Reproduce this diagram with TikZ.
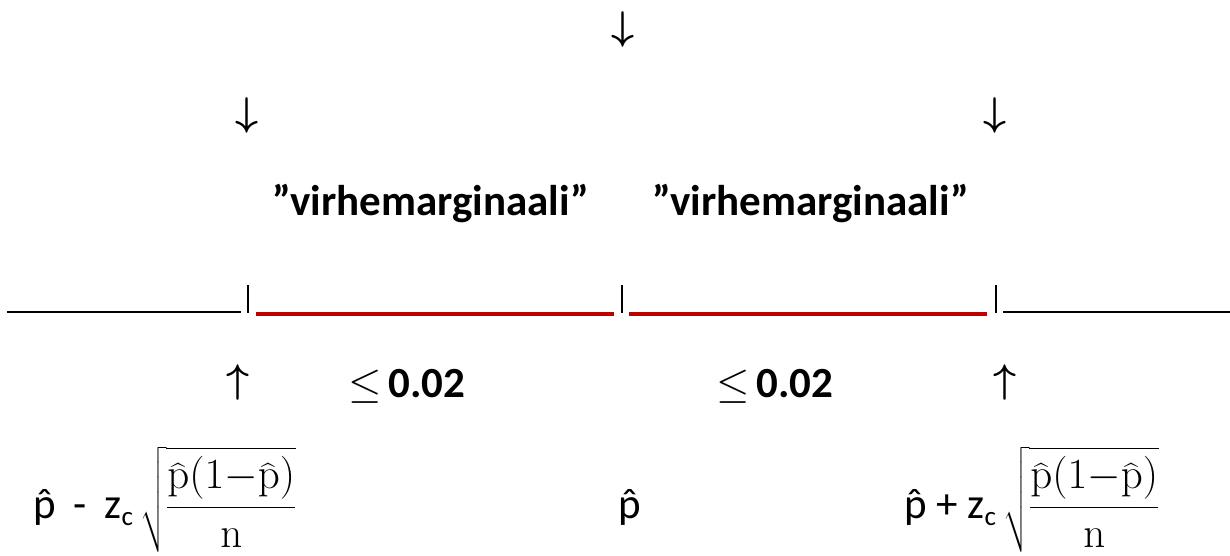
\RequirePackage{fix-cm}
\documentclass[tikz,border=0pt]{standalone}
\usepackage{amsmath}
\usepackage[no-math]{fontspec}
\setmainfont{Carlito}
\definecolor{wordred}{HTML}{C00000}
\newcommand\phat{\ooalign{p\cr\hidewidth ˆ\hidewidth\cr}}
\newcommand\sqfrac{\fontsize{43}{50}\selectfont$\sqrt{\dfrac{\vphantom{\rule{0pt}{0.8em}}\widehat{\mathrm{p}}(1{-}\widehat{\mathrm{p}})}{\mathrm{n}}}$}
\tikzset{
  txt/.style={inner sep=0pt, outer sep=0pt, font=\fontsize{43}{50}\selectfont},
  boldtxt/.style={txt, font=\fontsize{43}{50}\selectfont\bfseries},
  arr/.style={inner sep=0pt, outer sep=0pt, font=\fontsize{40}{40}\selectfont\boldmath},
  blackline/.style={line width=1.8pt, black},
  redline/.style={line width=4pt, wordred},
  tick/.style={line width=1.8pt, black}
}
\begin{document}
\begin{tikzpicture}[x=1pt,y=-1pt]
\useasboundingbox (0,0) rectangle (1230,555);
% arrows down
\node[arr] (dtop) at (623,29.5) {$\downarrow$};
\node[arr] (dleft) at (247,115.5) {$\downarrow$};
\node[arr] (dright) at (995,115.5) {$\downarrow$};
% labels
\node[boldtxt, anchor=base west] (vm1) at (272,215) {”virhemarginaali”};
\node[boldtxt, anchor=base west] (vm2) at (652,215) {”virhemarginaali”};
% number line
\coordinate (b0) at (7,311.7);
\coordinate (b1) at (241,311.7);
\coordinate (t1a) at (248,285);
\coordinate (t1b) at (248,313);
\coordinate (r1a) at (256,313.7);
\coordinate (r1b) at (614,313.7);
\coordinate (t2a) at (622,285);
\coordinate (t2b) at (622,313);
\coordinate (r2a) at (629,313.7);
\coordinate (r2b) at (987,313.7);
\coordinate (t3a) at (996,285);
\coordinate (t3b) at (996,313);
\coordinate (b2) at (1003,311.7);
\coordinate (b3) at (1230,311.7);
\draw[blackline] (b0) -- (b1);
\draw[tick] (t1a) -- (t1b);
\draw[redline] (r1a) -- (r1b);
\draw[tick] (t2a) -- (t2b);
\draw[redline] (r2a) -- (r2b);
\draw[tick] (t3a) -- (t3b);
\draw[blackline] (b2) -- (b3);
% up arrows and bounds
\node[arr] (uleft) at (238,382.5) {$\uparrow$};
\node[arr] (uright) at (1005,382.5) {$\uparrow$};
\node[boldtxt, anchor=base west] (le1) at (348,397) {$\leq$\,0.02};
\node[boldtxt, anchor=base west] (le2) at (716,397) {$\leq$\,0.02};
% formulas
\node[txt, anchor=base east] (f1t) at (133,518) {\phat\hspace{8pt} -\hspace{8pt} z\raisebox{-0.18em}{\fontsize{27}{27}\selectfont c}};
\node[txt, anchor=base west] (f1m) at (140,518) {\sqfrac};
\node[txt, anchor=base] (pc) at (630,518) {\phat};
\node[txt, anchor=base east] (f2t) at (996,518) {\phat{} + z\raisebox{-0.18em}{\fontsize{27}{27}\selectfont c}};
\node[txt, anchor=base west] (f2m) at (1003,518) {\sqfrac};
\end{tikzpicture}
\end{document}
